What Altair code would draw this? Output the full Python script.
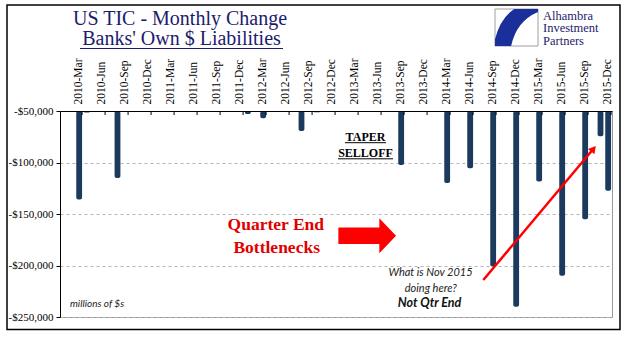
import altair as alt
import pandas as pd

SERIF = "Liberation Serif"
SANS = "Lato"
NAVY = "#1c1c6e"
BAR = "#1b3a5e"
RED = "#ff0000"

years = [2010, 2011, 2012, 2013, 2014, 2015]
month_names = ["Jan", "Feb", "Mar", "Apr", "May", "Jun",
               "Jul", "Aug", "Sep", "Oct", "Nov", "Dec"]
months = [f"{y}-{m}" for y in years for m in month_names]
quarter_months = [f"{y}-{m}" for y in years for m in ["Mar", "Jun", "Sep", "Dec"]]

# visible bars (millions of $)
bar_months = ["2010-Mar", "2010-Apr", "2010-Aug", "2012-Jan", "2012-Mar", "2012-Aug",
              "2012-Oct", "2013-Sep", "2014-Mar", "2014-Jun", "2014-Sep", "2014-Dec",
              "2015-Mar", "2015-Jun", "2015-Sep", "2015-Nov", "2015-Dec"]
bar_values = [-136000, -51500, -115000, -53000, -57000, -69500,
              -51300, -102500, -120000, -105500, -201000, -240000,
              -118500, -210000, -155000, -74500, -127500]

y_ticks = [-250000, -200000, -150000, -100000, -50000]
axis_top = -50000

df = pd.DataFrame({"month": bar_months, "value": bar_values})
df_q = pd.DataFrame({"month": quarter_months})
one = alt.Data(values=[{"a": 1}])

xscale = alt.Scale(domain=months, paddingInner=0.24, paddingOuter=0.12)
yscale = alt.Scale(domain=[-250000, axis_top], nice=False, zero=False)

bars = alt.Chart(df).mark_bar(color=BAR, cornerRadius=2).encode(
    x=alt.X("month:N", scale=xscale, sort=months,
            axis=alt.Axis(orient="top", values=quarter_months, labelAngle=-90,
                          labelFont=SERIF, labelFontSize=11.5, labelColor="black",
                          labelPadding=7, ticks=False, tickSize=0,
                          domainColor="black", domainWidth=1.2, title=None,
                          labelOverlap=False, zindex=1)),
    y=alt.Y("value:Q", scale=yscale,
            axis=alt.Axis(values=y_ticks, title=None,
                          labelExpr="'-$' + format(abs(datum.value), ',')",
                          labelFont=SERIF, labelFontSize=11, labelColor="black",
                          labelPadding=3, tickSize=4, tickColor="black",
                          domainColor="black", grid=True, gridColor="#b5b5b5",
                          gridDash=[3, 3], gridWidth=1)),
    y2=alt.datum(axis_top),
)

ticks = alt.Chart(df_q).mark_rule(color="black", strokeWidth=1).encode(
    x=alt.X("month:N", scale=xscale, sort=months, bandPosition=1),
    y=alt.value(0), y2=alt.value(4),
)


def txt(s, x, y, size, color="black", font=SERIF, weight="normal", style="normal", align="center"):
    return alt.Chart(one).mark_text(
        text=s, font=font, fontSize=size, fontWeight=weight, fontStyle=style,
        color=color, align=align, baseline="alphabetic"
    ).encode(x=alt.value(x), y=alt.value(y))


def rule(x, y, x2, y2, color="black", w=1):
    return alt.Chart(one).mark_rule(color=color, strokeWidth=w).encode(
        x=alt.value(x), y=alt.value(y), x2=alt.value(x2), y2=alt.value(y2))


frame = alt.Chart(one).mark_rect(fill="transparent", stroke="black", strokeWidth=1.5).encode(
    x=alt.value(-53), x2=alt.value(560), y=alt.value(-106), y2=alt.value(218.5))

logo_box = alt.Chart(one).mark_rect(fill="white", stroke="#a0a0a0", strokeWidth=1).encode(
    x=alt.value(435), x2=alt.value(478), y=alt.value(-102), y2=alt.value(-65))
logo_path = "M -0.1 -0.86 L 1 -0.86 L 1 -0.72 Q 0.0 -0.3 -0.25 0.86 L -1 0.86 L -1 0.55 Q -0.75 -0.45 -0.1 -0.86 Z"
logo_shape = alt.Chart(one).mark_point(shape=logo_path, size=1849, filled=True,
                                       color="#1a2f9a", opacity=1, strokeWidth=0).encode(
    x=alt.value(456.5), y=alt.value(-83.5))

arrow_path = "M -1 -0.288 L 0.42 -0.288 L 0.42 -0.607 L 1 0 L 0.42 0.607 L 0.42 0.288 L -1 0.288 Z"
block_arrow = alt.Chart(one).mark_point(shape=arrow_path, size=3329, filled=True,
                                        color=RED, opacity=1, strokeWidth=0).encode(
    x=alt.value(307.2), y=alt.value(124.8))

red_line = rule(423.3, 169, 533.5, 37.8, color=RED, w=2.5)
red_head = alt.Chart(one).mark_point(shape="triangle-up", size=70, angle=40, filled=True,
                                     color=RED, opacity=1, strokeWidth=0).encode(
    x=alt.value(533.5), y=alt.value(37.8))

layers = [
    frame,
    bars,
    ticks,
    txt("US TIC - Monthly Change", 120, -86, 20, color=NAVY),
    txt("Banks' Own $ Liabilities", 121.5, -66, 20, color=NAVY),
    rule(20, -62.5, 223, -62.5, color=NAVY, w=1),
    logo_box,
    logo_shape,
    txt("Alhambra", 483, -91.5, 12.5, color=NAVY, align="left"),
    txt("Investment", 483, -79, 12.5, color=NAVY, align="left"),
    txt("Partners", 483, -66.5, 12.5, color=NAVY, align="left"),
    txt("TAPER", 305.5, 30, 12, weight="bold"),
    rule(285, 31.7, 326, 31.7, w=1),
    txt("SELLOFF", 305.5, 46, 12, weight="bold"),
    rule(278, 47.8, 333, 47.8, w=1),
    txt("Quarter End", 215.8, 118.5, 17.5, color="#e00000", weight="bold"),
    txt("Bottlenecks", 216.7, 141.5, 17.5, color="#e00000", weight="bold"),
    block_arrow,
    red_line,
    red_head,
    txt("What is Nov 2015", 370.5, 165, 11, font=SANS, style="italic", color="#222"),
    txt("doing here?", 370.8, 180.5, 11, font=SANS, style="italic", color="#222"),
    txt("Not Qtr End", 369.5, 196.3, 12.5, font=SANS, style="italic", weight="bold", color="#111"),
    txt("millions of $s", 10, 195.7, 10, font=SANS, style="italic", color="#222", align="left"),
]

chart = alt.layer(*layers).properties(
    width=552, height=206,
    autosize=alt.AutoSizeParams(type="none"),
    padding={"left": 60, "top": 111, "right": 29, "bottom": 24},
).configure_view(stroke="#999999", strokeWidth=1)

chart.save("out.html", embed_options={"renderer": "svg", "actions": False})
